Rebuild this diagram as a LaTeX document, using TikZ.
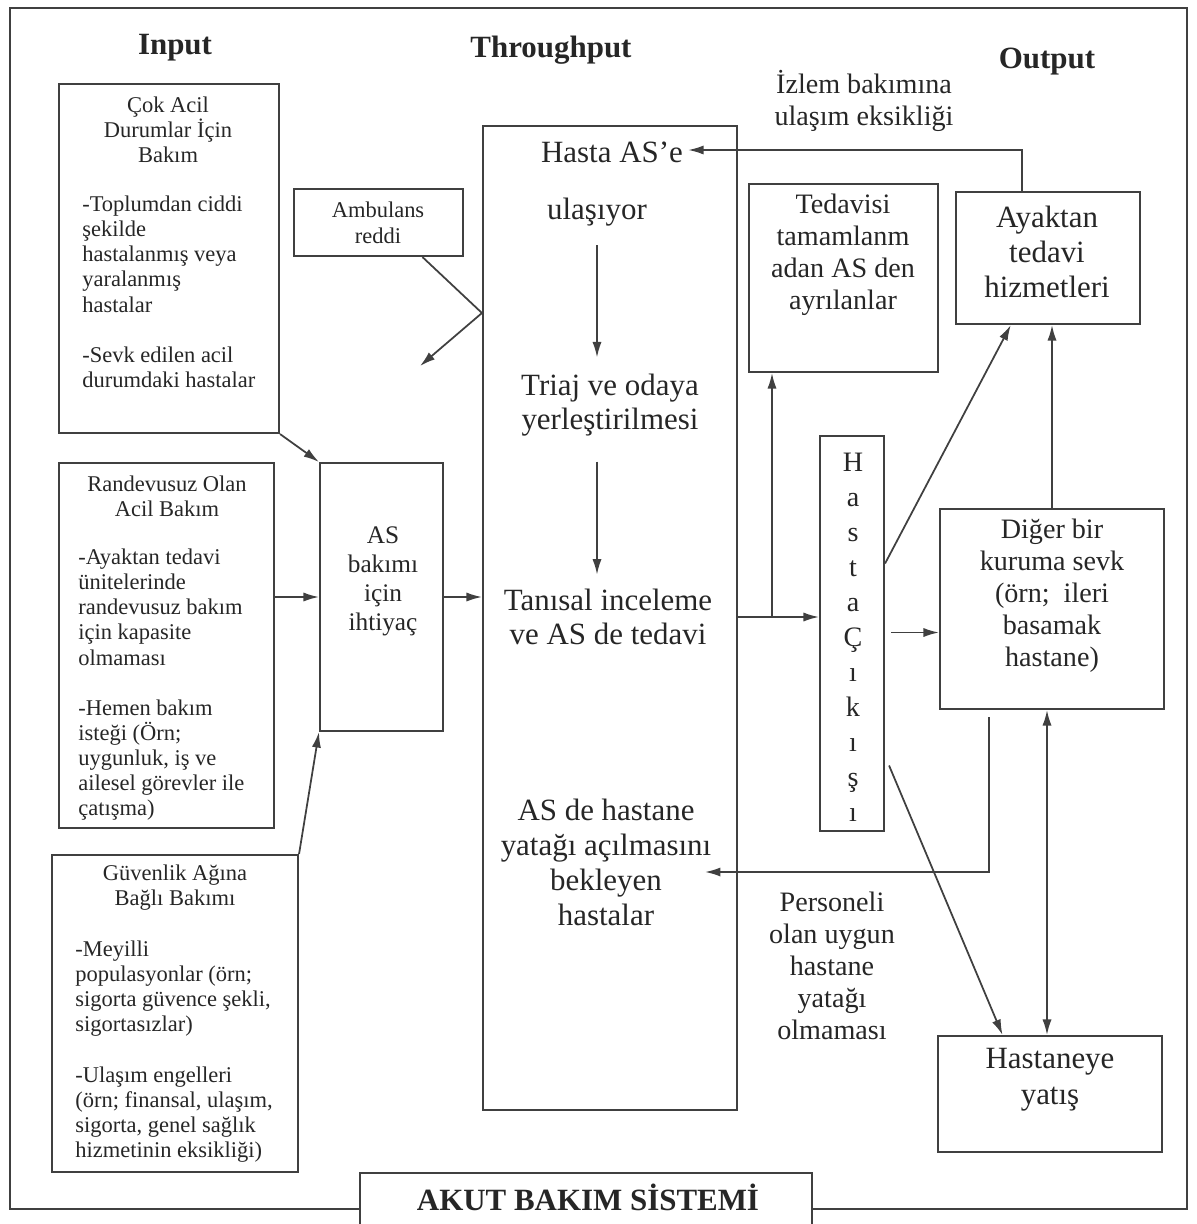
\documentclass[tikz,border=0pt]{standalone}
\usepackage{fontspec}
\setmainfont{Liberation Serif}
\usetikzlibrary{arrows.meta,calc,fit}

\definecolor{ink}{HTML}{262626}
\definecolor{rule}{HTML}{404040}

\begin{document}
\begin{tikzpicture}[x=0.025cm,y=-0.025cm,
  box/.style={draw=rule, line width=1.5pt, inner sep=0pt},
  link/.style={draw=rule, line width=1.25pt},
  arr/.style={link, -{Latex[length=11pt,width=6.5pt]}},
  dbl/.style={link, {Latex[length=11pt,width=6.5pt]}-{Latex[length=11pt,width=6.5pt]}},
  head/.style={font=\fontsize{22}{26}\selectfont\bfseries, text=ink, inner sep=0pt},
  ctitle/.style={font=\fontsize{16}{17.8}\selectfont, text=ink, align=center, inner sep=0pt},
  body/.style={font=\fontsize{16}{17.8}\selectfont, text=ink, align=left, inner sep=0pt, anchor=north west},
  mid/.style={font=\fontsize{18}{20.6}\selectfont, text=ink, align=center, inner sep=0pt},
  med/.style={font=\fontsize{20}{22.7}\selectfont, text=ink, align=center, inner sep=0pt},
  large/.style={font=\fontsize{22}{24.5}\selectfont, text=ink, align=center, inner sep=0pt},
]
\useasboundingbox (0,0) rectangle (1197,1224);

% outer frame of the system
\draw[rule, line width=1.5pt] (10,8) rectangle (1187,1209);

% column headings
\node[head] (hin)  at (175,48)  {Input};
\node[head] (hthr) at (551,50)  {Throughput};
\node[head] (hout) at (1047,62) {Output};

% ---------------- input boxes ----------------
\node[box, fit={(59,84) (279,433)}] (cok) {};
\node[ctitle] (cokT) at (168,130) {Çok Acil\\Durumlar İçin\\Bakım};
\node[body] (cokB) at (82,196) {-Toplumdan ciddi\\şekilde\\hastalanmış veya\\yaralanmış\\hastalar\\[17.8pt]-Sevk edilen acil\\durumdaki hastalar};

\node[box, fit={(59,463) (274,828)}] (rand) {};
\node[ctitle] (randT) at (167,496) {Randevusuz Olan\\Acil Bakım};
\node[body] (randB) at (78,549) {-Ayaktan tedavi\\ünitelerinde\\randevusuz bakım\\için kapasite\\olmaması\\[17.8pt]-Hemen bakım\\isteği (Örn;\\uygunluk, iş ve\\ailesel görevler ile\\çatışma)};

\node[box, fit={(52,855) (298,1172)}] (guv) {};
\node[ctitle] (guvT) at (175,888) {Güvenlik Ağına\\Bağlı Bakımı};
\node[body] (guvB) at (75,941) {-Meyilli\\populasyonlar (örn;\\sigorta güvence şekli,\\sigortasızlar)\\[17.8pt]-Ulaşım engelleri\\(örn; finansal, ulaşım,\\sigorta, genel sağlık\\hizmetinin eksikliği)};

\node[box, fit={(294,189) (463,256)}] (amb) {};
\node[ctitle, font=\fontsize{16}{18.5}\selectfont] (ambT) at (378,223) {Ambulans\\reddi};

\node[box, fit={(320,463) (443,731)}] (asb) {};
\node[mid] (asbT) at (383,581) {AS\\bakımı\\için\\ihtiyaç};

% ---------------- throughput ----------------
\node[box, fit={(483,126) (737,1110)}] (big) {};
\node[large] (hasta) at (612,152) {Hasta AS’e};
\node[large] (ulas)  at (597,212) {ulaşıyor};
\node[large] (triaj) at (610,405) {Triaj ve odaya\\yerleştirilmesi};
\node[large] (tani)  at (608,617) {Tanısal inceleme\\ve AS de tedavi};
\node[large, font=\fontsize{22}{24.9}\selectfont] (wait) at (606,862) {AS de hastane\\yatağı açılmasını\\bekleyen\\hastalar};

% ---------------- output ----------------
\node[box, fit={(749,184) (938,372)}] (ted) {};
\node[med] (tedT) at (843,255) {Tedavisi\\tamamlanm\\adan AS den\\ayrılanlar};

\node[box, fit={(956,192) (1140,324)}] (ayak) {};
\node[large, font=\fontsize{22}{24.9}\selectfont] (ayakT) at (1047,252) {Ayaktan\\tedavi\\hizmetleri};

\node[box, fit={(820,436) (884,831)}] (hc) {};
\node[med, font=\fontsize{20}{24.9}\selectfont] (hcT) at (853,637) {H\\a\\s\\t\\a\\Ç\\ı\\k\\ı\\ş\\ı};

\node[box, fit={(940,509) (1164,709)}] (dig) {};
\node[med] (digT) at (1052,596) {Diğer bir\\kuruma sevk\\(örn;\ \ ileri\\basamak\\hastane)};

\node[box, fit={(938,1036) (1162,1152)}] (hy) {};
\node[large, font=\fontsize{22}{25.6}\selectfont] (hyT) at (1050,1080) {Hastaneye\\yatış};

\node[med] (izlem) at (864,101) {İzlem bakımına\\ulaşım eksikliği};
\node[med] (pers)  at (832,966) {Personeli\\olan uygun\\hastane\\yatağı\\olmaması};

% ---------------- connectors ----------------
% inputs into the need for ED care
\draw[arr] (cok.south east) -- (asb.north west);
\draw[arr] (rand.east |- asb.west) -- (asb.west);
\draw[arr] (guv.north east) -- (asb.south west);
\draw[arr] (asb.east) -- (asb.east -| big.west);

% ambulance diversion bouncing off the ED
\coordinate (ambfoot) at ($(amb.south west)!0.757!(amb.south east)$);
\coordinate (ambrow) at (0,313);
\coordinate (ambhit) at (big.west |- ambrow);
\coordinate (ambend) at (420,366);
\draw[arr] (ambfoot) -- (ambhit) -- (ambend);

% flow inside the ED
\draw[arr] ($(ulas.south)+(0,19)$) -- ($(ulas.south |- triaj.north)+(0,-16)$);
\draw[arr] ($(triaj.south -| ulas.south)+(0,25)$) -- ($(ulas.south |- tani.north)+(0,-14)$);

% leaving the ED
\coordinate (split) at (772,617);
\draw[arr] (split -| big.east) -- (split -| hc.west);
\draw[arr] (split) -- (split |- ted.south);

\coordinate (hcup) at ($(hc.east)+(0,-70)$);
\draw[arr] (hcup) -- ($(ayak.south west)!0.30!(ayak.south east)$);
\coordinate (hcmid) at ($(hc.east)+(6,-1)$);
\draw[arr] (hcmid) -- (hcmid -| dig.west);
\draw[arr] ($(hc.east)+(4,132)$) -- ($(hy.north west)!0.29!(hy.north east)$);

\draw[arr] (dig.north) -- (dig.north |- ayak.south);
\coordinate (dd) at ($(dig.south)+(-5,0)$);
\draw[dbl] (dd) -- (dd |- hy.north);

% boarding: no staffed inpatient bed
\coordinate (digfoot) at ($(dig.south west)!0.22!(dig.south east)+(0,7)$);
\coordinate (waitin) at (705,872);
\draw[arr] (digfoot) |- (waitin);

% no access to follow-up care
\coordinate (ayaktop) at ($(ayak.north west)!0.36!(ayak.north east)$);
\coordinate (izlemin) at ($(hasta.east)+(5,-2)$);
\draw[arr] (ayaktop) |- (izlemin);

% system caption
\node[box, fill=white, fit={(360,1173) (812,1240)}] (sysbox) {};
\node[head] (systxt) at (588,1197) {AKUT BAKIM SİSTEMİ};
\end{tikzpicture}
\end{document}
